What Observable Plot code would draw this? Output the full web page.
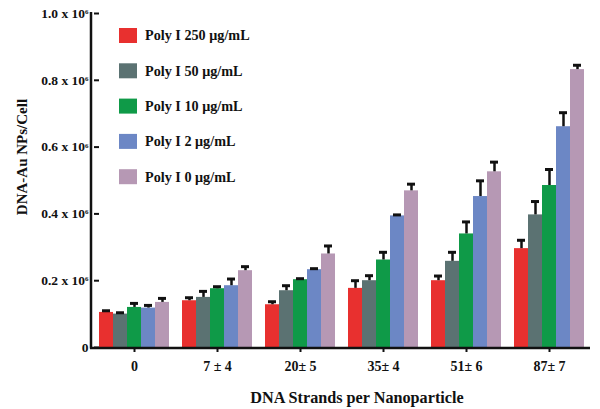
<!DOCTYPE html>
<html><head><meta charset="utf-8">
<script src="https://cdn.jsdelivr.net/npm/d3@7"></script>
<script src="https://cdn.jsdelivr.net/npm/@observablehq/plot@0.6"></script>
<style>
body{margin:0;background:#fff}
#wrap{position:relative;width:600px;height:409px}
svg text{font-family:"Liberation Serif","Times New Roman",serif;font-weight:bold}
</style></head><body><div id="wrap"></div>
<script>
const groups = ["0", "7 ± 4", "20± 5", "35± 4", "51± 6", "87± 7"];
const series = ["Poly I 250 μg/mL", "Poly I 50 μg/mL", "Poly I 10 μg/mL", "Poly I 2 μg/mL", "Poly I 0 μg/mL"];
const colors = ["#e8302f", "#5b7272", "#0f9a48", "#6c87c5", "#b698b4"];
// values (x 10^6 NPs/cell) per series, one per group
const v250 = [0.105, 0.140, 0.128, 0.177, 0.200, 0.296];
const v50  = [0.100, 0.150, 0.170, 0.200, 0.258, 0.397];
const v10  = [0.120, 0.176, 0.203, 0.262, 0.340, 0.485];
const v2   = [0.118, 0.185, 0.233, 0.394, 0.452, 0.661];
const v0   = [0.135, 0.230, 0.280, 0.469, 0.526, 0.832];
// error bar heights
const e250 = [0.005, 0.009, 0.009, 0.023, 0.014, 0.025];
const e50  = [0.004, 0.018, 0.015, 0.015, 0.027, 0.040];
const e10  = [0.012, 0.006, 0.003, 0.023, 0.036, 0.048];
const e2   = [0.008, 0.020, 0.003, 0.003, 0.047, 0.042];
const e0   = [0.012, 0.012, 0.024, 0.020, 0.029, 0.013];
const yTicks = [0, 0.2, 0.4, 0.6, 0.8, 1.0];
const xTitle = "DNA Strands per Nanoparticle";
const yTitle = "DNA-Au NPs/Cell";

const vals = [v250, v50, v10, v2, v0];
const errs = [e250, e50, e10, e2, e0];
const data = [];
groups.forEach((g, gi) => series.forEach((s, si) => data.push({group: g, series: s, value: vals[si][gi] * 1e6, err: errs[si][gi] * 1e6})));

const W = 600, H = 409, mL = 92, mR = 10, mT = 13, mB = 62;
const plot = Plot.plot({
  width: W, height: H, marginLeft: mL, marginRight: mR, marginTop: mT, marginBottom: mB,
  style: {background: "transparent", color: "#111"},
  fx: {domain: groups, paddingInner: 0.16, paddingOuter: 0.072, axis: null, label: null},
  x: {domain: series, padding: 0, axis: null},
  y: {domain: [0, 1e6], axis: null},
  color: {domain: series, range: colors},
  marks: [
    Plot.barY(data, {fx: "group", x: "series", y: "value", fill: "series"}),
    Plot.ruleX(data, {fx: "group", x: "series", y1: "value", y2: d => d.value + d.err, stroke: "#111", strokeWidth: 2.5}),
    Plot.tickY(data, {fx: "group", x: "series", y: d => d.value + d.err, stroke: "#111", strokeWidth: 3, insetLeft: 3, insetRight: 3}),
    Plot.axisY(yTicks.map(t => t * 1e6), {tickFormat: d => d === 0 ? "0" : `${(d / 1e6).toFixed(1)} x 10`, tickSize: 5, tickPadding: 6, fontSize: 13.5, label: null, strokeWidth: 2}),
    Plot.axisFx({anchor: "bottom", tickSize: 5, tickPadding: 9, fontSize: 14, label: null, strokeWidth: 2})
  ]
});

const y = plot.scale("y");
const svg = d3.select(plot);
// superscript exponent on y tick labels
svg.selectAll("g[aria-label='y-axis tick label'] text").each(function () {
  const t = d3.select(this);
  if (t.text() !== "0") t.append("tspan").attr("dy", "-0.55em").attr("font-size", 7).text("6");
});
svg.append("line").attr("x1", mL - 1).attr("x2", mL - 1).attr("y1", y.apply(1e6) - 1).attr("y2", y.apply(0) + 1.5).attr("stroke", "#111").attr("stroke-width", 2.5);
svg.append("line").attr("x1", mL - 2).attr("x2", W - mR).attr("y1", y.apply(0) + 1).attr("y2", y.apply(0) + 1).attr("stroke", "#111").attr("stroke-width", 2.5);
svg.append("text").attr("x", 357).attr("y", 403).attr("text-anchor", "middle").attr("font-size", 16.2).attr("fill", "#111").text(xTitle);
svg.append("text").attr("transform", "translate(27,157) rotate(-90)").attr("text-anchor", "middle").attr("font-size", 15).attr("fill", "#111").text(yTitle);

const leg = svg.append("g").attr("text-anchor", "start");
series.forEach((s, i) => {
  const cy = 35.5 + i * 35.3;
  leg.append("rect").attr("x", 119).attr("y", cy - 7.5).attr("width", 18).attr("height", 15).attr("fill", colors[i]);
  leg.append("text").attr("x", 145).attr("y", cy).attr("dy", "0.35em").attr("font-size", 14.2).attr("fill", "#111").text(s);
});

document.getElementById("wrap").appendChild(plot);
</script></body></html>
